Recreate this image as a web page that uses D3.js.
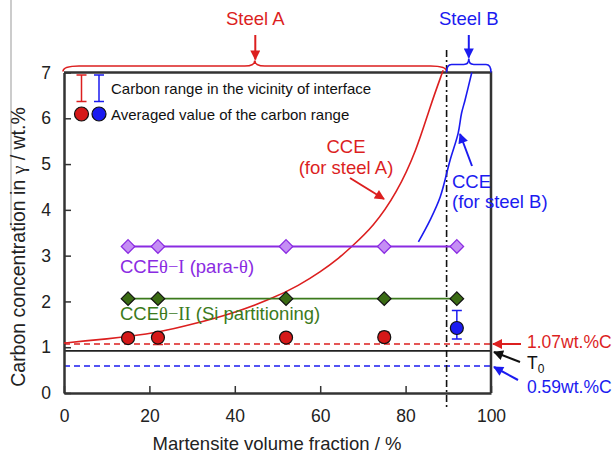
<!DOCTYPE html>
<html>
<head>
<meta charset="utf-8">
<script src="https://cdn.jsdelivr.net/npm/d3@7"></script>
<style>
  body { margin: 0; background: #fff; }
  svg { display: block; font-family: "Liberation Sans", Arial, sans-serif; }
</style>
</head>
<body>
<script>
// data
var xTicks = [0, 20, 40, 60, 80, 100];
var yTicks = [0, 1, 2, 3, 4, 5, 6, 7];

var fracAll = [15, 22, 52, 75, 92];        // martensite fraction of diamonds
var ccePara = [3.2, 3.2, 3.2, 3.2, 3.2];   // CCEθ-I
var cceSi = [2.06, 2.06, 2.06, 2.06, 2.06]; // CCEθ-II

var fracA = [15, 22, 52, 75];
var meanA = [1.2, 1.21, 1.21, 1.22];
var lowA = [1.14, 1.06, 1.13, 1.12];
var highA = [1.26, 1.3, 1.28, 1.33];

var fracB = [92];
var meanB = [1.42];
var lowB = [1.18];
var highB = [1.8];

var curveAX = [0, 0, 5, 10, 15, 22.5, 30, 39.6, 49, 55, 60, 64.6, 67.4, 72.4, 77.9, 82.6, 85.7, 88.8, 88.8];
var curveAY = [1.09, 1.09, 1.14, 1.18, 1.23, 1.33, 1.5, 1.74, 2.07, 2.35, 2.64, 2.96, 3.2, 3.63, 4.36, 5.31, 6.25, 7.05, 7.05];
var curveBX = [83.0, 85.7, 88.1, 90.4, 92.3, 93.1, 93.9, 95.5];
var curveBY = [3.3, 3.77, 4.28, 5.08, 5.67, 6.11, 6.39, 7.0];

var cA = 1.07;   // red dashed
var cB = 0.59;   // blue dashed
var t0 = 0.92;   // T0 line
var split = 89.6; // steel A / steel B boundary

var RED = "#dc1f1f", BLUE = "#1b1bf0", PURPLE = "#8a2be2", GREEN = "#3b7a1c";

var svg = d3.select("body").append("svg")
  .attr("width", 616)
  .attr("height", 459);

var x = d3.scaleLinear().domain([0, 100]).range([64, 491]);
var y = d3.scaleLinear().domain([0, 7]).range([393, 72.5]);

//箭头
var defs = svg.append("defs");
[["red", RED], ["blue", BLUE], ["black", "#111"]].forEach(function (m) {
  defs.append("marker")
    .attr("id", "arr-" + m[0])
    .attr("viewBox", "0 0 10 10")
    .attr("refX", 9).attr("refY", 5)
    .attr("markerUnits", "userSpaceOnUse")
    .attr("markerWidth", 11).attr("markerHeight", 10)
    .attr("orient", "auto")
    .append("path")
    .attr("d", "M0,0 L10,5 L0,10 z")
    .attr("fill", m[1]);
});

// faint stray line at the left edge of the original
svg.append("line")
  .attr("x1", 11).attr("y1", 0).attr("x2", 11).attr("y2", 228)
  .attr("stroke", "#999").attr("stroke-width", 1);

// horizontal reference lines
svg.append("line")
  .attr("x1", x(0)).attr("x2", x(100)).attr("y1", y(cA)).attr("y2", y(cA))
  .attr("stroke", RED).attr("stroke-width", 1.6).attr("stroke-dasharray", "6,4");
svg.append("line")
  .attr("x1", x(0)).attr("x2", x(100)).attr("y1", y(cB)).attr("y2", y(cB))
  .attr("stroke", BLUE).attr("stroke-width", 1.6).attr("stroke-dasharray", "6,4");
svg.append("line")
  .attr("x1", x(0)).attr("x2", x(100)).attr("y1", y(t0)).attr("y2", y(t0))
  .attr("stroke", "#222").attr("stroke-width", 1.8);

// dash-dot boundary
svg.append("line")
  .attr("x1", x(split)).attr("x2", x(split)).attr("y1", 50).attr("y2", 410)
  .attr("stroke", "#111").attr("stroke-width", 1.6).attr("stroke-dasharray", "7,3,2,3");

// frame top/right
svg.append("path")
  .attr("d", "M" + x(0) + "," + y(7) + " H" + x(100) + " V" + y(0))
  .attr("fill", "none").attr("stroke", "#333").attr("stroke-width", 2.5);

// axes
var xAxis = svg.append("g")
  .attr("transform", "translate(0," + y(0) + ")")
  .call(d3.axisBottom(x).tickValues(xTicks).tickSizeInner(-7).tickSizeOuter(0).tickPadding(17));
var yAxis = svg.append("g")
  .attr("transform", "translate(" + x(0) + ",0)")
  .call(d3.axisLeft(y).tickValues(yTicks).tickFormat(d3.format("d"))
    .tickSizeInner(-7).tickSizeOuter(0).tickPadding(13));
[xAxis, yAxis].forEach(function (a) {
  a.select(".domain").attr("stroke", "#333").attr("stroke-width", 2.5);
  a.selectAll(".tick line").attr("stroke", "#333").attr("stroke-width", 1.5);
  a.selectAll(".tick text").attr("font-size", 17.5).attr("fill", "#222")
    .attr("font-family", "Liberation Sans, Arial, sans-serif");
});

// axis titles
svg.append("text")
  .attr("x", 277).attr("y", 450)
  .attr("text-anchor", "middle").attr("font-size", 18.5).attr("fill", "#222")
  .text("Martensite volume fraction / %");
var yt = svg.append("text")
  .attr("transform", "translate(25,247) rotate(-90)")
  .attr("text-anchor", "middle").attr("font-size", 19.5).attr("fill", "#222");
yt.append("tspan").text("Carbon concentration in ");
yt.append("tspan").attr("font-family", "Liberation Serif, serif").text("γ");
yt.append("tspan").text(" / wt.%");

// CCE curves
var line = d3.line().x(function (d) { return x(d[0]); }).y(function (d) { return y(d[1]); });
svg.append("path")
  .datum(d3.zip(curveAX, curveAY))
  .attr("d", line.curve(d3.curveBasis))
  .attr("fill", "none").attr("stroke", RED).attr("stroke-width", 1.6);
svg.append("path")
  .datum(d3.zip(curveBX, curveBY))
  .attr("d", line.curve(d3.curveCatmullRom))
  .attr("fill", "none").attr("stroke", BLUE).attr("stroke-width", 1.6);

// braces above the frame
function brace(x0, x1, yb, ym, yt, r, rm) {
  var xm = (x0 + x1) / 2;
  return "M" + x0 + "," + yb +
    " Q" + x0 + "," + ym + " " + (x0 + r) + "," + ym +
    " L" + (xm - rm) + "," + ym +
    " Q" + xm + "," + ym + " " + xm + "," + yt +
    " Q" + xm + "," + ym + " " + (xm + rm) + "," + ym +
    " L" + (x1 - r) + "," + ym +
    " Q" + x1 + "," + ym + " " + x1 + "," + yb;
}
svg.append("path")
  .attr("d", brace(x(0) - 1, x(split), y(7) - 1, y(7) - 6.5, y(7) - 12, 16, 10))
  .attr("fill", "none").attr("stroke", RED).attr("stroke-width", 1.6);
svg.append("path")
  .attr("d", brace(x(split), x(100), y(7), y(7) - 8, y(7) - 14, 5, 5))
  .attr("fill", "none").attr("stroke", BLUE).attr("stroke-width", 1.6);

var xmA = x(split / 2), xmB = x((split + 100) / 2);
svg.append("line").attr("x1", xmA).attr("x2", xmA).attr("y1", 35).attr("y2", y(7) - 13)
  .attr("stroke", RED).attr("stroke-width", 2).attr("marker-end", "url(#arr-red)");
svg.append("line").attr("x1", xmB).attr("x2", xmB).attr("y1", 35).attr("y2", y(7) - 15)
  .attr("stroke", BLUE).attr("stroke-width", 2).attr("marker-end", "url(#arr-blue)");
svg.append("text").attr("x", xmA).attr("y", 25).attr("text-anchor", "middle")
  .attr("font-size", 18.5).attr("fill", RED).text("Steel A");
svg.append("text").attr("x", xmB).attr("y", 25).attr("text-anchor", "middle")
  .attr("font-size", 18.5).attr("fill", BLUE).text("Steel B");

// diamond lines
function diamond(s) { return "M0," + (-s) + " L" + s + ",0 L0," + s + " L" + (-s) + ",0 Z"; }
[[ccePara, PURPLE, "#c58ef4", PURPLE], [cceSi, GREEN, "#3a6b14", "#111"]].forEach(function (ser) {
  var pts = d3.zip(fracAll, ser[0]);
  svg.append("path").datum(pts)
    .attr("d", line.curve(d3.curveLinear))
    .attr("fill", "none").attr("stroke", ser[1]).attr("stroke-width", 1.8);
  svg.selectAll(null).data(pts).enter().append("path")
    .attr("transform", function (d) { return "translate(" + x(d[0]) + "," + y(d[1]) + ")"; })
    .attr("d", diamond(6.8))
    .attr("fill", ser[2]).attr("stroke", ser[3]).attr("stroke-width", 1.2);
});

// error bars and averaged values
function errBars(fr, lo, hi, col) {
  var g = svg.append("g");
  fr.forEach(function (f, i) {
    g.append("path")
      .attr("d", "M" + (x(f) - 5) + "," + y(lo[i]) + " H" + (x(f) + 5) +
        " M" + x(f) + "," + y(lo[i]) + " V" + y(hi[i]) +
        " M" + (x(f) - 5) + "," + y(hi[i]) + " H" + (x(f) + 5))
      .attr("fill", "none").attr("stroke", col).attr("stroke-width", 1.5);
  });
}
errBars(fracA, lowA, highA, RED);
errBars(fracB, lowB, highB, BLUE);
svg.selectAll(null).data(d3.zip(fracA, meanA)).enter().append("circle")
  .attr("cx", function (d) { return x(d[0]); }).attr("cy", function (d) { return y(d[1]); })
  .attr("r", 6.5).attr("fill", "#d51818").attr("stroke", "#111").attr("stroke-width", 1.2);
svg.selectAll(null).data(d3.zip(fracB, meanB)).enter().append("circle")
  .attr("cx", function (d) { return x(d[0]); }).attr("cy", function (d) { return y(d[1]); })
  .attr("r", 6.5).attr("fill", BLUE).attr("stroke", "#111").attr("stroke-width", 1.2);

// legend
var lg = svg.append("g");
[[81.5, RED], [99, BLUE]].forEach(function (b) {
  lg.append("path")
    .attr("d", "M" + (b[0] - 5) + ",75 H" + (b[0] + 5) + " M" + b[0] + ",75 V101.5 M" +
      (b[0] - 5) + ",101.5 H" + (b[0] + 5))
    .attr("fill", "none").attr("stroke", b[1]).attr("stroke-width", 1.5);
});
lg.append("circle").attr("cx", 81.5).attr("cy", 114).attr("r", 7)
  .attr("fill", "#d51818").attr("stroke", "#111").attr("stroke-width", 1.2);
lg.append("circle").attr("cx", 99).attr("cy", 114).attr("r", 7)
  .attr("fill", BLUE).attr("stroke", "#111").attr("stroke-width", 1.2);
lg.append("text").attr("x", 111).attr("y", 94).attr("font-size", 15).attr("fill", "#111")
  .text("Carbon range in the vicinity of interface");
lg.append("text").attr("x", 111).attr("y", 119.5).attr("font-size", 15).attr("fill", "#111")
  .text("Averaged value of the carbon range");

// series labels
var t1 = svg.append("text").attr("x", 120).attr("y", 273).attr("font-size", 18.5).attr("fill", PURPLE);
t1.append("tspan").text("CCE");
t1.append("tspan").attr("font-family", "Liberation Serif, serif").text("θ−I");
t1.append("tspan").text(" (para-");
t1.append("tspan").attr("font-family", "Liberation Serif, serif").text("θ");
t1.append("tspan").text(")");
var t2 = svg.append("text").attr("x", 120).attr("y", 320).attr("font-size", 18.5).attr("fill", GREEN);
t2.append("tspan").text("CCE");
t2.append("tspan").attr("font-family", "Liberation Serif, serif").text("θ−II");
t2.append("tspan").text(" (Si partitioning)");

// CCE annotations
svg.append("text").attr("x", 346).attr("y", 153).attr("text-anchor", "middle")
  .attr("font-size", 18.5).attr("fill", RED).text("CCE");
svg.append("text").attr("x", 346).attr("y", 174).attr("text-anchor", "middle")
  .attr("font-size", 18.5).attr("fill", RED).text("(for steel A)");
svg.append("line").attr("x1", 350).attr("y1", 178).attr("x2", 384).attr("y2", 199)
  .attr("stroke", RED).attr("stroke-width", 2).attr("marker-end", "url(#arr-red)");

svg.append("text").attr("x", 452).attr("y", 188)
  .attr("font-size", 18.5).attr("fill", BLUE).text("CCE");
svg.append("text").attr("x", 452).attr("y", 208)
  .attr("font-size", 18.5).attr("fill", BLUE).text("(for steel B)");
svg.append("line").attr("x1", 472).attr("y1", 166).attr("x2", 460).attr("y2", 134)
  .attr("stroke", BLUE).attr("stroke-width", 2).attr("marker-end", "url(#arr-blue)");

// right-hand labels
svg.append("line").attr("x1", 521).attr("y1", y(cA)).attr("x2", 493).attr("y2", y(cA))
  .attr("stroke", RED).attr("stroke-width", 2).attr("marker-end", "url(#arr-red)");
svg.append("text").attr("x", 527).attr("y", 348).attr("font-size", 17.5).attr("fill", RED)
  .text("1.07wt.%C");
svg.append("line").attr("x1", 520).attr("y1", 362).attr("x2", 494).attr("y2", 352)
  .attr("stroke", "#111").attr("stroke-width", 2).attr("marker-end", "url(#arr-black)");
var tt = svg.append("text").attr("x", 527).attr("y", 369).attr("font-size", 17.5).attr("fill", "#111");
tt.append("tspan").text("T");
tt.append("tspan").attr("font-size", 12).attr("dy", 4).text("0");
svg.append("line").attr("x1", 518).attr("y1", 380).attr("x2", 494).attr("y2", 367)
  .attr("stroke", BLUE).attr("stroke-width", 2).attr("marker-end", "url(#arr-blue)");
svg.append("text").attr("x", 527).attr("y", 393).attr("font-size", 17.5).attr("fill", BLUE)
  .text("0.59wt.%C");
</script>
</body>
</html>
